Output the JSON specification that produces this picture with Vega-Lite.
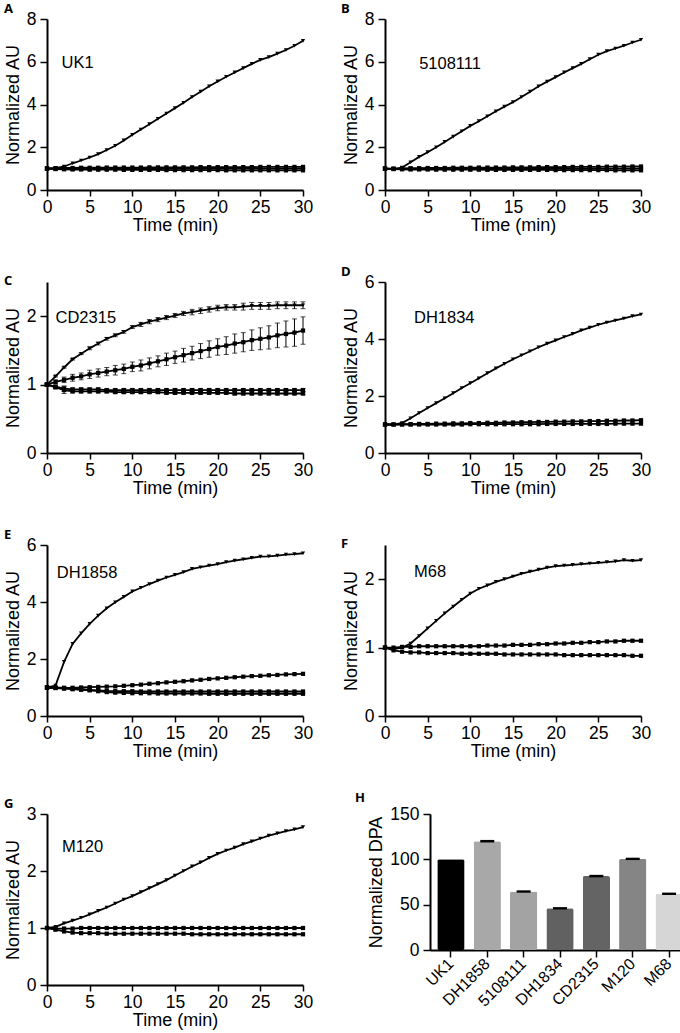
{
"$schema":"https://vega.github.io/schema/vega-lite/v6.json",
"padding":{"left":4,"top":3,"right":0,"bottom":0},
"background":"white",
"config":{
 "view":{"stroke":null},
 "font":"Liberation Sans",
 "axis":{"grid":false,"domainColor":"black","domainWidth":2,"tickColor":"black","tickWidth":1.5,"tickSize":6,"labelColor":"black","labelFont":"Liberation Sans","labelFontSize":17.5,"titleFont":"Liberation Sans","titleFontSize":18,"titleFontWeight":"normal","titleColor":"black","labelFlush":false},
 "axisX":{"labelPadding":2,"titlePadding":1},
 "axisY":{"labelPadding":4,"titlePadding":4},
 "title":{"font":"Open Sans","fontSize":13,"fontWeight":"bold","color":"black","anchor":"start","frame":"group","offset":-6}
},
"datasets":{
"ts":[
{"p":"A","s":1,"t":0,"y":1},{"p":"A","s":1,"t":1,"y":1.02},{"p":"A","s":1,"t":2,"y":1.1},{"p":"A","s":1,"t":3,"y":1.25},{"p":"A","s":1,"t":4,"y":1.38},{"p":"A","s":1,"t":5,"y":1.52},{"p":"A","s":1,"t":6,"y":1.68},{"p":"A","s":1,"t":7,"y":1.87},{"p":"A","s":1,"t":8,"y":2.07},{"p":"A","s":1,"t":9,"y":2.32},{"p":"A","s":1,"t":10,"y":2.58},{"p":"A","s":1,"t":11,"y":2.83},{"p":"A","s":1,"t":12,"y":3.08},{"p":"A","s":1,"t":13,"y":3.33},{"p":"A","s":1,"t":14,"y":3.58},{"p":"A","s":1,"t":15,"y":3.83},{"p":"A","s":1,"t":16,"y":4.08},{"p":"A","s":1,"t":17,"y":4.35},{"p":"A","s":1,"t":18,"y":4.6},{"p":"A","s":1,"t":19,"y":4.85},{"p":"A","s":1,"t":20,"y":5.08},{"p":"A","s":1,"t":21,"y":5.3},{"p":"A","s":1,"t":22,"y":5.5},{"p":"A","s":1,"t":23,"y":5.7},{"p":"A","s":1,"t":24,"y":5.9},{"p":"A","s":1,"t":25,"y":6.09},{"p":"A","s":1,"t":26,"y":6.22},{"p":"A","s":1,"t":27,"y":6.38},{"p":"A","s":1,"t":28,"y":6.55},{"p":"A","s":1,"t":29,"y":6.75},{"p":"A","s":1,"t":30,"y":6.98},
{"p":"A","s":2,"t":0,"y":1},{"p":"A","s":2,"t":1,"y":1.02},{"p":"A","s":2,"t":2,"y":1.03},{"p":"A","s":2,"t":3,"y":1.03},{"p":"A","s":2,"t":4,"y":1.04},{"p":"A","s":2,"t":5,"y":1.04},{"p":"A","s":2,"t":6,"y":1.04},{"p":"A","s":2,"t":7,"y":1.05},{"p":"A","s":2,"t":8,"y":1.05},{"p":"A","s":2,"t":9,"y":1.05},{"p":"A","s":2,"t":10,"y":1.05},{"p":"A","s":2,"t":11,"y":1.05},{"p":"A","s":2,"t":12,"y":1.06},{"p":"A","s":2,"t":13,"y":1.06},{"p":"A","s":2,"t":14,"y":1.06},{"p":"A","s":2,"t":15,"y":1.06},{"p":"A","s":2,"t":16,"y":1.06},{"p":"A","s":2,"t":17,"y":1.06},{"p":"A","s":2,"t":18,"y":1.07},{"p":"A","s":2,"t":19,"y":1.07},{"p":"A","s":2,"t":20,"y":1.07},{"p":"A","s":2,"t":21,"y":1.07},{"p":"A","s":2,"t":22,"y":1.07},{"p":"A","s":2,"t":23,"y":1.07},{"p":"A","s":2,"t":24,"y":1.07},{"p":"A","s":2,"t":25,"y":1.08},{"p":"A","s":2,"t":26,"y":1.08},{"p":"A","s":2,"t":27,"y":1.08},{"p":"A","s":2,"t":28,"y":1.08},{"p":"A","s":2,"t":29,"y":1.08},{"p":"A","s":2,"t":30,"y":1.08},
{"p":"A","s":3,"t":0,"y":1},{"p":"A","s":3,"t":1,"y":0.98},{"p":"A","s":3,"t":2,"y":0.97},{"p":"A","s":3,"t":3,"y":0.96},{"p":"A","s":3,"t":4,"y":0.96},{"p":"A","s":3,"t":5,"y":0.95},{"p":"A","s":3,"t":6,"y":0.95},{"p":"A","s":3,"t":7,"y":0.95},{"p":"A","s":3,"t":8,"y":0.95},{"p":"A","s":3,"t":9,"y":0.94},{"p":"A","s":3,"t":10,"y":0.94},{"p":"A","s":3,"t":11,"y":0.94},{"p":"A","s":3,"t":12,"y":0.94},{"p":"A","s":3,"t":13,"y":0.94},{"p":"A","s":3,"t":14,"y":0.93},{"p":"A","s":3,"t":15,"y":0.93},{"p":"A","s":3,"t":16,"y":0.93},{"p":"A","s":3,"t":17,"y":0.93},{"p":"A","s":3,"t":18,"y":0.93},{"p":"A","s":3,"t":19,"y":0.93},{"p":"A","s":3,"t":20,"y":0.93},{"p":"A","s":3,"t":21,"y":0.92},{"p":"A","s":3,"t":22,"y":0.92},{"p":"A","s":3,"t":23,"y":0.92},{"p":"A","s":3,"t":24,"y":0.92},{"p":"A","s":3,"t":25,"y":0.92},{"p":"A","s":3,"t":26,"y":0.92},{"p":"A","s":3,"t":27,"y":0.92},{"p":"A","s":3,"t":28,"y":0.92},{"p":"A","s":3,"t":29,"y":0.92},{"p":"A","s":3,"t":30,"y":0.92},
{"p":"A","s":4,"t":0,"y":1},{"p":"A","s":4,"t":1,"y":1},{"p":"A","s":4,"t":2,"y":0.99},{"p":"A","s":4,"t":3,"y":0.99},{"p":"A","s":4,"t":4,"y":0.99},{"p":"A","s":4,"t":5,"y":0.99},{"p":"A","s":4,"t":6,"y":1},{"p":"A","s":4,"t":7,"y":1},{"p":"A","s":4,"t":8,"y":1},{"p":"A","s":4,"t":9,"y":1},{"p":"A","s":4,"t":10,"y":1},{"p":"A","s":4,"t":11,"y":1},{"p":"A","s":4,"t":12,"y":1},{"p":"A","s":4,"t":13,"y":1},{"p":"A","s":4,"t":14,"y":1},{"p":"A","s":4,"t":15,"y":1},{"p":"A","s":4,"t":16,"y":1},{"p":"A","s":4,"t":17,"y":1},{"p":"A","s":4,"t":18,"y":1},{"p":"A","s":4,"t":19,"y":1},{"p":"A","s":4,"t":20,"y":1},{"p":"A","s":4,"t":21,"y":1},{"p":"A","s":4,"t":22,"y":1},{"p":"A","s":4,"t":23,"y":1},{"p":"A","s":4,"t":24,"y":1},{"p":"A","s":4,"t":25,"y":1},{"p":"A","s":4,"t":26,"y":1},{"p":"A","s":4,"t":27,"y":1},{"p":"A","s":4,"t":28,"y":1},{"p":"A","s":4,"t":29,"y":1},{"p":"A","s":4,"t":30,"y":1},
{"p":"B","s":1,"t":0,"y":1},{"p":"B","s":1,"t":1,"y":0.98},{"p":"B","s":1,"t":2,"y":1.05},{"p":"B","s":1,"t":3,"y":1.3},{"p":"B","s":1,"t":4,"y":1.55},{"p":"B","s":1,"t":5,"y":1.77},{"p":"B","s":1,"t":6,"y":2},{"p":"B","s":1,"t":7,"y":2.25},{"p":"B","s":1,"t":8,"y":2.5},{"p":"B","s":1,"t":9,"y":2.75},{"p":"B","s":1,"t":10,"y":3},{"p":"B","s":1,"t":11,"y":3.22},{"p":"B","s":1,"t":12,"y":3.45},{"p":"B","s":1,"t":13,"y":3.68},{"p":"B","s":1,"t":14,"y":3.9},{"p":"B","s":1,"t":15,"y":4.11},{"p":"B","s":1,"t":16,"y":4.35},{"p":"B","s":1,"t":17,"y":4.6},{"p":"B","s":1,"t":18,"y":4.85},{"p":"B","s":1,"t":19,"y":5.07},{"p":"B","s":1,"t":20,"y":5.28},{"p":"B","s":1,"t":21,"y":5.5},{"p":"B","s":1,"t":22,"y":5.7},{"p":"B","s":1,"t":23,"y":5.9},{"p":"B","s":1,"t":24,"y":6.12},{"p":"B","s":1,"t":25,"y":6.33},{"p":"B","s":1,"t":26,"y":6.5},{"p":"B","s":1,"t":27,"y":6.62},{"p":"B","s":1,"t":28,"y":6.75},{"p":"B","s":1,"t":29,"y":6.9},{"p":"B","s":1,"t":30,"y":7.03},
{"p":"B","s":2,"t":0,"y":1},{"p":"B","s":2,"t":1,"y":1},{"p":"B","s":2,"t":2,"y":1.01},{"p":"B","s":2,"t":3,"y":1.02},{"p":"B","s":2,"t":4,"y":1.02},{"p":"B","s":2,"t":5,"y":1.03},{"p":"B","s":2,"t":6,"y":1.03},{"p":"B","s":2,"t":7,"y":1.03},{"p":"B","s":2,"t":8,"y":1.04},{"p":"B","s":2,"t":9,"y":1.04},{"p":"B","s":2,"t":10,"y":1.04},{"p":"B","s":2,"t":11,"y":1.05},{"p":"B","s":2,"t":12,"y":1.05},{"p":"B","s":2,"t":13,"y":1.05},{"p":"B","s":2,"t":14,"y":1.05},{"p":"B","s":2,"t":15,"y":1.06},{"p":"B","s":2,"t":16,"y":1.06},{"p":"B","s":2,"t":17,"y":1.06},{"p":"B","s":2,"t":18,"y":1.07},{"p":"B","s":2,"t":19,"y":1.07},{"p":"B","s":2,"t":20,"y":1.07},{"p":"B","s":2,"t":21,"y":1.07},{"p":"B","s":2,"t":22,"y":1.08},{"p":"B","s":2,"t":23,"y":1.08},{"p":"B","s":2,"t":24,"y":1.08},{"p":"B","s":2,"t":25,"y":1.08},{"p":"B","s":2,"t":26,"y":1.09},{"p":"B","s":2,"t":27,"y":1.09},{"p":"B","s":2,"t":28,"y":1.09},{"p":"B","s":2,"t":29,"y":1.1},{"p":"B","s":2,"t":30,"y":1.1},
{"p":"B","s":3,"t":0,"y":1},{"p":"B","s":3,"t":1,"y":0.98},{"p":"B","s":3,"t":2,"y":0.97},{"p":"B","s":3,"t":3,"y":0.96},{"p":"B","s":3,"t":4,"y":0.96},{"p":"B","s":3,"t":5,"y":0.96},{"p":"B","s":3,"t":6,"y":0.95},{"p":"B","s":3,"t":7,"y":0.95},{"p":"B","s":3,"t":8,"y":0.95},{"p":"B","s":3,"t":9,"y":0.95},{"p":"B","s":3,"t":10,"y":0.95},{"p":"B","s":3,"t":11,"y":0.95},{"p":"B","s":3,"t":12,"y":0.94},{"p":"B","s":3,"t":13,"y":0.94},{"p":"B","s":3,"t":14,"y":0.94},{"p":"B","s":3,"t":15,"y":0.94},{"p":"B","s":3,"t":16,"y":0.94},{"p":"B","s":3,"t":17,"y":0.94},{"p":"B","s":3,"t":18,"y":0.94},{"p":"B","s":3,"t":19,"y":0.94},{"p":"B","s":3,"t":20,"y":0.93},{"p":"B","s":3,"t":21,"y":0.93},{"p":"B","s":3,"t":22,"y":0.93},{"p":"B","s":3,"t":23,"y":0.93},{"p":"B","s":3,"t":24,"y":0.93},{"p":"B","s":3,"t":25,"y":0.93},{"p":"B","s":3,"t":26,"y":0.93},{"p":"B","s":3,"t":27,"y":0.92},{"p":"B","s":3,"t":28,"y":0.92},{"p":"B","s":3,"t":29,"y":0.92},{"p":"B","s":3,"t":30,"y":0.92},
{"p":"B","s":4,"t":0,"y":1},{"p":"B","s":4,"t":1,"y":0.99},{"p":"B","s":4,"t":2,"y":0.99},{"p":"B","s":4,"t":3,"y":0.99},{"p":"B","s":4,"t":4,"y":0.99},{"p":"B","s":4,"t":5,"y":0.99},{"p":"B","s":4,"t":6,"y":0.99},{"p":"B","s":4,"t":7,"y":0.99},{"p":"B","s":4,"t":8,"y":0.99},{"p":"B","s":4,"t":9,"y":0.99},{"p":"B","s":4,"t":10,"y":0.99},{"p":"B","s":4,"t":11,"y":1},{"p":"B","s":4,"t":12,"y":1},{"p":"B","s":4,"t":13,"y":1},{"p":"B","s":4,"t":14,"y":1},{"p":"B","s":4,"t":15,"y":1},{"p":"B","s":4,"t":16,"y":1},{"p":"B","s":4,"t":17,"y":1},{"p":"B","s":4,"t":18,"y":1},{"p":"B","s":4,"t":19,"y":1},{"p":"B","s":4,"t":20,"y":1},{"p":"B","s":4,"t":21,"y":1},{"p":"B","s":4,"t":22,"y":1},{"p":"B","s":4,"t":23,"y":1},{"p":"B","s":4,"t":24,"y":1},{"p":"B","s":4,"t":25,"y":1},{"p":"B","s":4,"t":26,"y":1},{"p":"B","s":4,"t":27,"y":1},{"p":"B","s":4,"t":28,"y":1},{"p":"B","s":4,"t":29,"y":1},{"p":"B","s":4,"t":30,"y":1},
{"p":"C","s":1,"t":0,"y":1,"e":0.01},{"p":"C","s":1,"t":1,"y":1.12,"e":0.01},{"p":"C","s":1,"t":2,"y":1.25,"e":0.01},{"p":"C","s":1,"t":3,"y":1.37,"e":0.01},{"p":"C","s":1,"t":4,"y":1.45,"e":0.01},{"p":"C","s":1,"t":5,"y":1.53,"e":0.02},{"p":"C","s":1,"t":6,"y":1.6,"e":0.02},{"p":"C","s":1,"t":7,"y":1.67,"e":0.02},{"p":"C","s":1,"t":8,"y":1.72,"e":0.02},{"p":"C","s":1,"t":9,"y":1.77,"e":0.02},{"p":"C","s":1,"t":10,"y":1.84,"e":0.02},{"p":"C","s":1,"t":11,"y":1.88,"e":0.03},{"p":"C","s":1,"t":12,"y":1.92,"e":0.03},{"p":"C","s":1,"t":13,"y":1.95,"e":0.03},{"p":"C","s":1,"t":14,"y":1.98,"e":0.03},{"p":"C","s":1,"t":15,"y":2.01,"e":0.03},{"p":"C","s":1,"t":16,"y":2.04,"e":0.03},{"p":"C","s":1,"t":17,"y":2.06,"e":0.04},{"p":"C","s":1,"t":18,"y":2.08,"e":0.04},{"p":"C","s":1,"t":19,"y":2.1,"e":0.04},{"p":"C","s":1,"t":20,"y":2.12,"e":0.04},{"p":"C","s":1,"t":21,"y":2.13,"e":0.04},{"p":"C","s":1,"t":22,"y":2.13,"e":0.04},{"p":"C","s":1,"t":23,"y":2.14,"e":0.05},{"p":"C","s":1,"t":24,"y":2.15,"e":0.05},{"p":"C","s":1,"t":25,"y":2.15,"e":0.05},{"p":"C","s":1,"t":26,"y":2.15,"e":0.05},{"p":"C","s":1,"t":27,"y":2.16,"e":0.05},{"p":"C","s":1,"t":28,"y":2.16,"e":0.05},{"p":"C","s":1,"t":29,"y":2.16,"e":0.05},{"p":"C","s":1,"t":30,"y":2.16,"e":0.05},
{"p":"C","s":2,"t":0,"y":1,"e":0.01},{"p":"C","s":2,"t":1,"y":1.04,"e":0.03},{"p":"C","s":2,"t":2,"y":1.07,"e":0.04},{"p":"C","s":2,"t":3,"y":1.1,"e":0.05},{"p":"C","s":2,"t":4,"y":1.12,"e":0.05},{"p":"C","s":2,"t":5,"y":1.15,"e":0.06},{"p":"C","s":2,"t":6,"y":1.17,"e":0.06},{"p":"C","s":2,"t":7,"y":1.19,"e":0.06},{"p":"C","s":2,"t":8,"y":1.21,"e":0.07},{"p":"C","s":2,"t":9,"y":1.23,"e":0.07},{"p":"C","s":2,"t":10,"y":1.26,"e":0.07},{"p":"C","s":2,"t":11,"y":1.28,"e":0.08},{"p":"C","s":2,"t":12,"y":1.31,"e":0.08},{"p":"C","s":2,"t":13,"y":1.34,"e":0.08},{"p":"C","s":2,"t":14,"y":1.37,"e":0.09},{"p":"C","s":2,"t":15,"y":1.4,"e":0.09},{"p":"C","s":2,"t":16,"y":1.43,"e":0.1},{"p":"C","s":2,"t":17,"y":1.46,"e":0.1},{"p":"C","s":2,"t":18,"y":1.49,"e":0.11},{"p":"C","s":2,"t":19,"y":1.52,"e":0.12},{"p":"C","s":2,"t":20,"y":1.55,"e":0.12},{"p":"C","s":2,"t":21,"y":1.57,"e":0.13},{"p":"C","s":2,"t":22,"y":1.6,"e":0.14},{"p":"C","s":2,"t":23,"y":1.62,"e":0.14},{"p":"C","s":2,"t":24,"y":1.65,"e":0.15},{"p":"C","s":2,"t":25,"y":1.67,"e":0.16},{"p":"C","s":2,"t":26,"y":1.69,"e":0.17},{"p":"C","s":2,"t":27,"y":1.72,"e":0.18},{"p":"C","s":2,"t":28,"y":1.74,"e":0.19},{"p":"C","s":2,"t":29,"y":1.76,"e":0.2},{"p":"C","s":2,"t":30,"y":1.79,"e":0.2},
{"p":"C","s":3,"t":0,"y":1,"e":0.02},{"p":"C","s":3,"t":1,"y":0.97,"e":0.02},{"p":"C","s":3,"t":2,"y":0.94,"e":0.04},{"p":"C","s":3,"t":3,"y":0.93,"e":0.02},{"p":"C","s":3,"t":4,"y":0.93,"e":0.02},{"p":"C","s":3,"t":5,"y":0.93,"e":0.02},{"p":"C","s":3,"t":6,"y":0.93,"e":0.02},{"p":"C","s":3,"t":7,"y":0.92,"e":0.02},{"p":"C","s":3,"t":8,"y":0.92,"e":0.02},{"p":"C","s":3,"t":9,"y":0.92,"e":0.02},{"p":"C","s":3,"t":10,"y":0.92,"e":0.02},{"p":"C","s":3,"t":11,"y":0.92,"e":0.02},{"p":"C","s":3,"t":12,"y":0.92,"e":0.02},{"p":"C","s":3,"t":13,"y":0.92,"e":0.02},{"p":"C","s":3,"t":14,"y":0.92,"e":0.02},{"p":"C","s":3,"t":15,"y":0.92,"e":0.02},{"p":"C","s":3,"t":16,"y":0.92,"e":0.02},{"p":"C","s":3,"t":17,"y":0.92,"e":0.02},{"p":"C","s":3,"t":18,"y":0.92,"e":0.02},{"p":"C","s":3,"t":19,"y":0.92,"e":0.02},{"p":"C","s":3,"t":20,"y":0.92,"e":0.02},{"p":"C","s":3,"t":21,"y":0.92,"e":0.02},{"p":"C","s":3,"t":22,"y":0.92,"e":0.02},{"p":"C","s":3,"t":23,"y":0.92,"e":0.02},{"p":"C","s":3,"t":24,"y":0.92,"e":0.02},{"p":"C","s":3,"t":25,"y":0.92,"e":0.02},{"p":"C","s":3,"t":26,"y":0.92,"e":0.02},{"p":"C","s":3,"t":27,"y":0.92,"e":0.02},{"p":"C","s":3,"t":28,"y":0.92,"e":0.02},{"p":"C","s":3,"t":29,"y":0.92,"e":0.02},{"p":"C","s":3,"t":30,"y":0.92,"e":0.02},
{"p":"C","s":4,"t":0,"y":1,"e":0.02},{"p":"C","s":4,"t":1,"y":0.96,"e":0.02},{"p":"C","s":4,"t":2,"y":0.92,"e":0.05},{"p":"C","s":4,"t":3,"y":0.9,"e":0.02},{"p":"C","s":4,"t":4,"y":0.9,"e":0.02},{"p":"C","s":4,"t":5,"y":0.9,"e":0.02},{"p":"C","s":4,"t":6,"y":0.9,"e":0.02},{"p":"C","s":4,"t":7,"y":0.9,"e":0.02},{"p":"C","s":4,"t":8,"y":0.89,"e":0.02},{"p":"C","s":4,"t":9,"y":0.89,"e":0.02},{"p":"C","s":4,"t":10,"y":0.89,"e":0.02},{"p":"C","s":4,"t":11,"y":0.89,"e":0.02},{"p":"C","s":4,"t":12,"y":0.89,"e":0.02},{"p":"C","s":4,"t":13,"y":0.89,"e":0.02},{"p":"C","s":4,"t":14,"y":0.88,"e":0.02},{"p":"C","s":4,"t":15,"y":0.88,"e":0.02},{"p":"C","s":4,"t":16,"y":0.88,"e":0.02},{"p":"C","s":4,"t":17,"y":0.88,"e":0.02},{"p":"C","s":4,"t":18,"y":0.88,"e":0.02},{"p":"C","s":4,"t":19,"y":0.88,"e":0.02},{"p":"C","s":4,"t":20,"y":0.88,"e":0.02},{"p":"C","s":4,"t":21,"y":0.88,"e":0.02},{"p":"C","s":4,"t":22,"y":0.87,"e":0.02},{"p":"C","s":4,"t":23,"y":0.87,"e":0.02},{"p":"C","s":4,"t":24,"y":0.87,"e":0.02},{"p":"C","s":4,"t":25,"y":0.87,"e":0.02},{"p":"C","s":4,"t":26,"y":0.87,"e":0.02},{"p":"C","s":4,"t":27,"y":0.87,"e":0.02},{"p":"C","s":4,"t":28,"y":0.87,"e":0.02},{"p":"C","s":4,"t":29,"y":0.87,"e":0.02},{"p":"C","s":4,"t":30,"y":0.87,"e":0.02},
{"p":"D","s":1,"t":0,"y":1},{"p":"D","s":1,"t":1,"y":1},{"p":"D","s":1,"t":2,"y":1.05},{"p":"D","s":1,"t":3,"y":1.22},{"p":"D","s":1,"t":4,"y":1.4},{"p":"D","s":1,"t":5,"y":1.58},{"p":"D","s":1,"t":6,"y":1.75},{"p":"D","s":1,"t":7,"y":1.92},{"p":"D","s":1,"t":8,"y":2.1},{"p":"D","s":1,"t":9,"y":2.28},{"p":"D","s":1,"t":10,"y":2.45},{"p":"D","s":1,"t":11,"y":2.62},{"p":"D","s":1,"t":12,"y":2.8},{"p":"D","s":1,"t":13,"y":2.97},{"p":"D","s":1,"t":14,"y":3.13},{"p":"D","s":1,"t":15,"y":3.29},{"p":"D","s":1,"t":16,"y":3.43},{"p":"D","s":1,"t":17,"y":3.57},{"p":"D","s":1,"t":18,"y":3.71},{"p":"D","s":1,"t":19,"y":3.84},{"p":"D","s":1,"t":20,"y":3.95},{"p":"D","s":1,"t":21,"y":4.07},{"p":"D","s":1,"t":22,"y":4.18},{"p":"D","s":1,"t":23,"y":4.3},{"p":"D","s":1,"t":24,"y":4.4},{"p":"D","s":1,"t":25,"y":4.5},{"p":"D","s":1,"t":26,"y":4.58},{"p":"D","s":1,"t":27,"y":4.65},{"p":"D","s":1,"t":28,"y":4.72},{"p":"D","s":1,"t":29,"y":4.8},{"p":"D","s":1,"t":30,"y":4.86},
{"p":"D","s":2,"t":0,"y":1},{"p":"D","s":2,"t":1,"y":1},{"p":"D","s":2,"t":2,"y":1.01},{"p":"D","s":2,"t":3,"y":1.01},{"p":"D","s":2,"t":4,"y":1.02},{"p":"D","s":2,"t":5,"y":1.02},{"p":"D","s":2,"t":6,"y":1.03},{"p":"D","s":2,"t":7,"y":1.03},{"p":"D","s":2,"t":8,"y":1.04},{"p":"D","s":2,"t":9,"y":1.04},{"p":"D","s":2,"t":10,"y":1.05},{"p":"D","s":2,"t":11,"y":1.05},{"p":"D","s":2,"t":12,"y":1.06},{"p":"D","s":2,"t":13,"y":1.06},{"p":"D","s":2,"t":14,"y":1.07},{"p":"D","s":2,"t":15,"y":1.07},{"p":"D","s":2,"t":16,"y":1.08},{"p":"D","s":2,"t":17,"y":1.08},{"p":"D","s":2,"t":18,"y":1.09},{"p":"D","s":2,"t":19,"y":1.09},{"p":"D","s":2,"t":20,"y":1.1},{"p":"D","s":2,"t":21,"y":1.1},{"p":"D","s":2,"t":22,"y":1.11},{"p":"D","s":2,"t":23,"y":1.11},{"p":"D","s":2,"t":24,"y":1.12},{"p":"D","s":2,"t":25,"y":1.12},{"p":"D","s":2,"t":26,"y":1.13},{"p":"D","s":2,"t":27,"y":1.13},{"p":"D","s":2,"t":28,"y":1.14},{"p":"D","s":2,"t":29,"y":1.14},{"p":"D","s":2,"t":30,"y":1.15},
{"p":"D","s":3,"t":0,"y":1},{"p":"D","s":3,"t":1,"y":1},{"p":"D","s":3,"t":2,"y":1},{"p":"D","s":3,"t":3,"y":1},{"p":"D","s":3,"t":4,"y":1},{"p":"D","s":3,"t":5,"y":1},{"p":"D","s":3,"t":6,"y":1},{"p":"D","s":3,"t":7,"y":1},{"p":"D","s":3,"t":8,"y":1},{"p":"D","s":3,"t":9,"y":1},{"p":"D","s":3,"t":10,"y":1.01},{"p":"D","s":3,"t":11,"y":1.01},{"p":"D","s":3,"t":12,"y":1.01},{"p":"D","s":3,"t":13,"y":1.01},{"p":"D","s":3,"t":14,"y":1.01},{"p":"D","s":3,"t":15,"y":1.01},{"p":"D","s":3,"t":16,"y":1.01},{"p":"D","s":3,"t":17,"y":1.01},{"p":"D","s":3,"t":18,"y":1.01},{"p":"D","s":3,"t":19,"y":1.02},{"p":"D","s":3,"t":20,"y":1.02},{"p":"D","s":3,"t":21,"y":1.02},{"p":"D","s":3,"t":22,"y":1.02},{"p":"D","s":3,"t":23,"y":1.02},{"p":"D","s":3,"t":24,"y":1.02},{"p":"D","s":3,"t":25,"y":1.02},{"p":"D","s":3,"t":26,"y":1.02},{"p":"D","s":3,"t":27,"y":1.03},{"p":"D","s":3,"t":28,"y":1.03},{"p":"D","s":3,"t":29,"y":1.03},{"p":"D","s":3,"t":30,"y":1.03},
{"p":"E","s":1,"t":0,"y":1},{"p":"E","s":1,"t":1,"y":1.07},{"p":"E","s":1,"t":2,"y":1.9},{"p":"E","s":1,"t":3,"y":2.53},{"p":"E","s":1,"t":4,"y":2.9},{"p":"E","s":1,"t":5,"y":3.23},{"p":"E","s":1,"t":6,"y":3.52},{"p":"E","s":1,"t":7,"y":3.78},{"p":"E","s":1,"t":8,"y":3.99},{"p":"E","s":1,"t":9,"y":4.18},{"p":"E","s":1,"t":10,"y":4.37},{"p":"E","s":1,"t":11,"y":4.5},{"p":"E","s":1,"t":12,"y":4.63},{"p":"E","s":1,"t":13,"y":4.75},{"p":"E","s":1,"t":14,"y":4.86},{"p":"E","s":1,"t":15,"y":4.95},{"p":"E","s":1,"t":16,"y":5.05},{"p":"E","s":1,"t":17,"y":5.16},{"p":"E","s":1,"t":18,"y":5.22},{"p":"E","s":1,"t":19,"y":5.28},{"p":"E","s":1,"t":20,"y":5.33},{"p":"E","s":1,"t":21,"y":5.4},{"p":"E","s":1,"t":22,"y":5.45},{"p":"E","s":1,"t":23,"y":5.5},{"p":"E","s":1,"t":24,"y":5.55},{"p":"E","s":1,"t":25,"y":5.59},{"p":"E","s":1,"t":26,"y":5.6},{"p":"E","s":1,"t":27,"y":5.63},{"p":"E","s":1,"t":28,"y":5.66},{"p":"E","s":1,"t":29,"y":5.68},{"p":"E","s":1,"t":30,"y":5.71},
{"p":"E","s":2,"t":0,"y":1},{"p":"E","s":2,"t":1,"y":1},{"p":"E","s":2,"t":2,"y":0.99},{"p":"E","s":2,"t":3,"y":0.99},{"p":"E","s":2,"t":4,"y":1},{"p":"E","s":2,"t":5,"y":1.01},{"p":"E","s":2,"t":6,"y":1.02},{"p":"E","s":2,"t":7,"y":1.03},{"p":"E","s":2,"t":8,"y":1.04},{"p":"E","s":2,"t":9,"y":1.06},{"p":"E","s":2,"t":10,"y":1.08},{"p":"E","s":2,"t":11,"y":1.1},{"p":"E","s":2,"t":12,"y":1.13},{"p":"E","s":2,"t":13,"y":1.15},{"p":"E","s":2,"t":14,"y":1.18},{"p":"E","s":2,"t":15,"y":1.2},{"p":"E","s":2,"t":16,"y":1.22},{"p":"E","s":2,"t":17,"y":1.25},{"p":"E","s":2,"t":18,"y":1.27},{"p":"E","s":2,"t":19,"y":1.3},{"p":"E","s":2,"t":20,"y":1.32},{"p":"E","s":2,"t":21,"y":1.34},{"p":"E","s":2,"t":22,"y":1.36},{"p":"E","s":2,"t":23,"y":1.38},{"p":"E","s":2,"t":24,"y":1.4},{"p":"E","s":2,"t":25,"y":1.41},{"p":"E","s":2,"t":26,"y":1.43},{"p":"E","s":2,"t":27,"y":1.44},{"p":"E","s":2,"t":28,"y":1.46},{"p":"E","s":2,"t":29,"y":1.47},{"p":"E","s":2,"t":30,"y":1.48},
{"p":"E","s":3,"t":0,"y":1},{"p":"E","s":3,"t":1,"y":0.99},{"p":"E","s":3,"t":2,"y":0.98},{"p":"E","s":3,"t":3,"y":0.96},{"p":"E","s":3,"t":4,"y":0.94},{"p":"E","s":3,"t":5,"y":0.92},{"p":"E","s":3,"t":6,"y":0.9},{"p":"E","s":3,"t":7,"y":0.88},{"p":"E","s":3,"t":8,"y":0.87},{"p":"E","s":3,"t":9,"y":0.87},{"p":"E","s":3,"t":10,"y":0.87},{"p":"E","s":3,"t":11,"y":0.86},{"p":"E","s":3,"t":12,"y":0.86},{"p":"E","s":3,"t":13,"y":0.86},{"p":"E","s":3,"t":14,"y":0.86},{"p":"E","s":3,"t":15,"y":0.86},{"p":"E","s":3,"t":16,"y":0.86},{"p":"E","s":3,"t":17,"y":0.86},{"p":"E","s":3,"t":18,"y":0.86},{"p":"E","s":3,"t":19,"y":0.86},{"p":"E","s":3,"t":20,"y":0.86},{"p":"E","s":3,"t":21,"y":0.86},{"p":"E","s":3,"t":22,"y":0.86},{"p":"E","s":3,"t":23,"y":0.86},{"p":"E","s":3,"t":24,"y":0.86},{"p":"E","s":3,"t":25,"y":0.86},{"p":"E","s":3,"t":26,"y":0.86},{"p":"E","s":3,"t":27,"y":0.86},{"p":"E","s":3,"t":28,"y":0.86},{"p":"E","s":3,"t":29,"y":0.86},{"p":"E","s":3,"t":30,"y":0.86},
{"p":"E","s":4,"t":0,"y":1},{"p":"E","s":4,"t":1,"y":0.98},{"p":"E","s":4,"t":2,"y":0.96},{"p":"E","s":4,"t":3,"y":0.94},{"p":"E","s":4,"t":4,"y":0.92},{"p":"E","s":4,"t":5,"y":0.9},{"p":"E","s":4,"t":6,"y":0.87},{"p":"E","s":4,"t":7,"y":0.84},{"p":"E","s":4,"t":8,"y":0.82},{"p":"E","s":4,"t":9,"y":0.81},{"p":"E","s":4,"t":10,"y":0.8},{"p":"E","s":4,"t":11,"y":0.8},{"p":"E","s":4,"t":12,"y":0.8},{"p":"E","s":4,"t":13,"y":0.79},{"p":"E","s":4,"t":14,"y":0.79},{"p":"E","s":4,"t":15,"y":0.79},{"p":"E","s":4,"t":16,"y":0.79},{"p":"E","s":4,"t":17,"y":0.79},{"p":"E","s":4,"t":18,"y":0.79},{"p":"E","s":4,"t":19,"y":0.78},{"p":"E","s":4,"t":20,"y":0.78},{"p":"E","s":4,"t":21,"y":0.78},{"p":"E","s":4,"t":22,"y":0.78},{"p":"E","s":4,"t":23,"y":0.78},{"p":"E","s":4,"t":24,"y":0.78},{"p":"E","s":4,"t":25,"y":0.78},{"p":"E","s":4,"t":26,"y":0.78},{"p":"E","s":4,"t":27,"y":0.78},{"p":"E","s":4,"t":28,"y":0.78},{"p":"E","s":4,"t":29,"y":0.78},{"p":"E","s":4,"t":30,"y":0.78},
{"p":"F","s":1,"t":0,"y":1},{"p":"F","s":1,"t":1,"y":0.98},{"p":"F","s":1,"t":2,"y":1},{"p":"F","s":1,"t":3,"y":1.06},{"p":"F","s":1,"t":4,"y":1.17},{"p":"F","s":1,"t":5,"y":1.28},{"p":"F","s":1,"t":6,"y":1.39},{"p":"F","s":1,"t":7,"y":1.5},{"p":"F","s":1,"t":8,"y":1.6},{"p":"F","s":1,"t":9,"y":1.7},{"p":"F","s":1,"t":10,"y":1.79},{"p":"F","s":1,"t":11,"y":1.86},{"p":"F","s":1,"t":12,"y":1.91},{"p":"F","s":1,"t":13,"y":1.96},{"p":"F","s":1,"t":14,"y":2},{"p":"F","s":1,"t":15,"y":2.04},{"p":"F","s":1,"t":16,"y":2.08},{"p":"F","s":1,"t":17,"y":2.11},{"p":"F","s":1,"t":18,"y":2.14},{"p":"F","s":1,"t":19,"y":2.17},{"p":"F","s":1,"t":20,"y":2.19},{"p":"F","s":1,"t":21,"y":2.2},{"p":"F","s":1,"t":22,"y":2.21},{"p":"F","s":1,"t":23,"y":2.22},{"p":"F","s":1,"t":24,"y":2.23},{"p":"F","s":1,"t":25,"y":2.24},{"p":"F","s":1,"t":26,"y":2.25},{"p":"F","s":1,"t":27,"y":2.26},{"p":"F","s":1,"t":28,"y":2.28},{"p":"F","s":1,"t":29,"y":2.27},{"p":"F","s":1,"t":30,"y":2.28},
{"p":"F","s":2,"t":0,"y":1},{"p":"F","s":2,"t":1,"y":1},{"p":"F","s":2,"t":2,"y":1.01},{"p":"F","s":2,"t":3,"y":1.01},{"p":"F","s":2,"t":4,"y":1.02},{"p":"F","s":2,"t":5,"y":1.02},{"p":"F","s":2,"t":6,"y":1.02},{"p":"F","s":2,"t":7,"y":1.02},{"p":"F","s":2,"t":8,"y":1.02},{"p":"F","s":2,"t":9,"y":1.02},{"p":"F","s":2,"t":10,"y":1.02},{"p":"F","s":2,"t":11,"y":1.02},{"p":"F","s":2,"t":12,"y":1.03},{"p":"F","s":2,"t":13,"y":1.03},{"p":"F","s":2,"t":14,"y":1.03},{"p":"F","s":2,"t":15,"y":1.04},{"p":"F","s":2,"t":16,"y":1.04},{"p":"F","s":2,"t":17,"y":1.04},{"p":"F","s":2,"t":18,"y":1.05},{"p":"F","s":2,"t":19,"y":1.05},{"p":"F","s":2,"t":20,"y":1.06},{"p":"F","s":2,"t":21,"y":1.06},{"p":"F","s":2,"t":22,"y":1.07},{"p":"F","s":2,"t":23,"y":1.07},{"p":"F","s":2,"t":24,"y":1.08},{"p":"F","s":2,"t":25,"y":1.08},{"p":"F","s":2,"t":26,"y":1.09},{"p":"F","s":2,"t":27,"y":1.09},{"p":"F","s":2,"t":28,"y":1.1},{"p":"F","s":2,"t":29,"y":1.1},{"p":"F","s":2,"t":30,"y":1.1},
{"p":"F","s":3,"t":0,"y":1},{"p":"F","s":3,"t":1,"y":0.96},{"p":"F","s":3,"t":2,"y":0.94},{"p":"F","s":3,"t":3,"y":0.93},{"p":"F","s":3,"t":4,"y":0.93},{"p":"F","s":3,"t":5,"y":0.92},{"p":"F","s":3,"t":6,"y":0.92},{"p":"F","s":3,"t":7,"y":0.92},{"p":"F","s":3,"t":8,"y":0.92},{"p":"F","s":3,"t":9,"y":0.91},{"p":"F","s":3,"t":10,"y":0.91},{"p":"F","s":3,"t":11,"y":0.91},{"p":"F","s":3,"t":12,"y":0.91},{"p":"F","s":3,"t":13,"y":0.91},{"p":"F","s":3,"t":14,"y":0.9},{"p":"F","s":3,"t":15,"y":0.9},{"p":"F","s":3,"t":16,"y":0.9},{"p":"F","s":3,"t":17,"y":0.9},{"p":"F","s":3,"t":18,"y":0.9},{"p":"F","s":3,"t":19,"y":0.9},{"p":"F","s":3,"t":20,"y":0.9},{"p":"F","s":3,"t":21,"y":0.89},{"p":"F","s":3,"t":22,"y":0.89},{"p":"F","s":3,"t":23,"y":0.89},{"p":"F","s":3,"t":24,"y":0.89},{"p":"F","s":3,"t":25,"y":0.89},{"p":"F","s":3,"t":26,"y":0.89},{"p":"F","s":3,"t":27,"y":0.89},{"p":"F","s":3,"t":28,"y":0.89},{"p":"F","s":3,"t":29,"y":0.88},{"p":"F","s":3,"t":30,"y":0.88},
{"p":"G","s":1,"t":0,"y":1},{"p":"G","s":1,"t":1,"y":1.02},{"p":"G","s":1,"t":2,"y":1.08},{"p":"G","s":1,"t":3,"y":1.13},{"p":"G","s":1,"t":4,"y":1.18},{"p":"G","s":1,"t":5,"y":1.24},{"p":"G","s":1,"t":6,"y":1.3},{"p":"G","s":1,"t":7,"y":1.36},{"p":"G","s":1,"t":8,"y":1.43},{"p":"G","s":1,"t":9,"y":1.5},{"p":"G","s":1,"t":10,"y":1.56},{"p":"G","s":1,"t":11,"y":1.63},{"p":"G","s":1,"t":12,"y":1.7},{"p":"G","s":1,"t":13,"y":1.77},{"p":"G","s":1,"t":14,"y":1.84},{"p":"G","s":1,"t":15,"y":1.92},{"p":"G","s":1,"t":16,"y":2},{"p":"G","s":1,"t":17,"y":2.08},{"p":"G","s":1,"t":18,"y":2.15},{"p":"G","s":1,"t":19,"y":2.23},{"p":"G","s":1,"t":20,"y":2.3},{"p":"G","s":1,"t":21,"y":2.36},{"p":"G","s":1,"t":22,"y":2.41},{"p":"G","s":1,"t":23,"y":2.47},{"p":"G","s":1,"t":24,"y":2.52},{"p":"G","s":1,"t":25,"y":2.57},{"p":"G","s":1,"t":26,"y":2.62},{"p":"G","s":1,"t":27,"y":2.66},{"p":"G","s":1,"t":28,"y":2.7},{"p":"G","s":1,"t":29,"y":2.73},{"p":"G","s":1,"t":30,"y":2.77},
{"p":"G","s":2,"t":0,"y":1},{"p":"G","s":2,"t":1,"y":0.99},{"p":"G","s":2,"t":2,"y":0.99},{"p":"G","s":2,"t":3,"y":0.99},{"p":"G","s":2,"t":4,"y":1},{"p":"G","s":2,"t":5,"y":1},{"p":"G","s":2,"t":6,"y":1},{"p":"G","s":2,"t":7,"y":1},{"p":"G","s":2,"t":8,"y":1},{"p":"G","s":2,"t":9,"y":1},{"p":"G","s":2,"t":10,"y":1},{"p":"G","s":2,"t":11,"y":1},{"p":"G","s":2,"t":12,"y":1},{"p":"G","s":2,"t":13,"y":1},{"p":"G","s":2,"t":14,"y":1},{"p":"G","s":2,"t":15,"y":1},{"p":"G","s":2,"t":16,"y":1},{"p":"G","s":2,"t":17,"y":1},{"p":"G","s":2,"t":18,"y":1},{"p":"G","s":2,"t":19,"y":1},{"p":"G","s":2,"t":20,"y":1},{"p":"G","s":2,"t":21,"y":1},{"p":"G","s":2,"t":22,"y":1},{"p":"G","s":2,"t":23,"y":1},{"p":"G","s":2,"t":24,"y":1},{"p":"G","s":2,"t":25,"y":1},{"p":"G","s":2,"t":26,"y":1},{"p":"G","s":2,"t":27,"y":1},{"p":"G","s":2,"t":28,"y":1},{"p":"G","s":2,"t":29,"y":1},{"p":"G","s":2,"t":30,"y":1},
{"p":"G","s":3,"t":0,"y":1},{"p":"G","s":3,"t":1,"y":0.97},{"p":"G","s":3,"t":2,"y":0.94},{"p":"G","s":3,"t":3,"y":0.92},{"p":"G","s":3,"t":4,"y":0.91},{"p":"G","s":3,"t":5,"y":0.91},{"p":"G","s":3,"t":6,"y":0.91},{"p":"G","s":3,"t":7,"y":0.9},{"p":"G","s":3,"t":8,"y":0.9},{"p":"G","s":3,"t":9,"y":0.9},{"p":"G","s":3,"t":10,"y":0.9},{"p":"G","s":3,"t":11,"y":0.9},{"p":"G","s":3,"t":12,"y":0.9},{"p":"G","s":3,"t":13,"y":0.9},{"p":"G","s":3,"t":14,"y":0.9},{"p":"G","s":3,"t":15,"y":0.9},{"p":"G","s":3,"t":16,"y":0.9},{"p":"G","s":3,"t":17,"y":0.89},{"p":"G","s":3,"t":18,"y":0.89},{"p":"G","s":3,"t":19,"y":0.89},{"p":"G","s":3,"t":20,"y":0.89},{"p":"G","s":3,"t":21,"y":0.89},{"p":"G","s":3,"t":22,"y":0.89},{"p":"G","s":3,"t":23,"y":0.89},{"p":"G","s":3,"t":24,"y":0.89},{"p":"G","s":3,"t":25,"y":0.89},{"p":"G","s":3,"t":26,"y":0.89},{"p":"G","s":3,"t":27,"y":0.89},{"p":"G","s":3,"t":28,"y":0.89},{"p":"G","s":3,"t":29,"y":0.89},{"p":"G","s":3,"t":30,"y":0.89}
],
"dpa":[
{"strain":"UK1","v":100,"e":0},{"strain":"DH1858","v":120,"e":1.4},{"strain":"5108111","v":64.5,"e":1.3},{"strain":"DH1834","v":46,"e":1.3},{"strain":"CD2315","v":81.5,"e":1.4},{"strain":"M120","v":100.5,"e":1.3},{"strain":"M68","v":62,"e":1.3}
]
},
"spacing":31,
"vconcat":[
{"spacing":28,"hconcat":[
 {"width":256,"height":171,"title":{"text":"A","dx":-43},
  "layer":[
   {"data":{"name":"ts"},"transform":[{"filter":"datum.p==='A'"}],"mark":{"type":"line","color":"black","strokeWidth":1.8},
    "encoding":{"x":{"field":"t","type":"quantitative","scale":{"domain":[0,30],"nice":false},"axis":{"title":"Time (min)","values":[0,2.5,5,7.5,10,12.5,15,17.5,20,22.5,25,27.5,30],"labelExpr":"datum.value % 5 === 0 ? format(datum.value, 'd') : ''"}},
     "y":{"field":"y","type":"quantitative","scale":{"domain":[0,8],"nice":false},"axis":{"title":"Normalized AU","values":[0,1,2,3,4,5,6,7,8],"labelExpr":"datum.value % 2 === 0 ? format(datum.value, 'd') : ''","tickSize":{"condition":{"test":"datum.value % 2 === 0","value":7},"value":4}}},
     "detail":{"field":"s"}}},
   {"data":{"name":"ts"},"transform":[{"filter":"datum.p==='A'"}],"mark":{"type":"point","filled":true,"color":"black","size":18,"opacity":1},
    "encoding":{"x":{"field":"t","type":"quantitative","scale":{"domain":[0,30],"nice":false}},"y":{"field":"y","type":"quantitative","scale":{"domain":[0,8],"nice":false}},
     "shape":{"field":"s","type":"nominal","scale":{"domain":[1,2,3,4],"range":["triangle-down","square","square","square"]},"legend":null}}},
   {"data":{"values":[{"label":"UK1"}]},"mark":{"type":"text","align":"left","baseline":"middle","fontSize":16.5,"font":"Liberation Sans","color":"black"},"encoding":{"x":{"datum":1.7,"type":"quantitative"},"y":{"datum":5.95,"type":"quantitative"},"text":{"field":"label","type":"nominal"}}}
  ]},
 {"width":256,"height":171,"title":{"text":"B","dx":-44},
  "layer":[
   {"data":{"name":"ts"},"transform":[{"filter":"datum.p==='B'"}],"mark":{"type":"line","color":"black","strokeWidth":1.8},
    "encoding":{"x":{"field":"t","type":"quantitative","scale":{"domain":[0,30],"nice":false},"axis":{"title":"Time (min)","values":[0,2.5,5,7.5,10,12.5,15,17.5,20,22.5,25,27.5,30],"labelExpr":"datum.value % 5 === 0 ? format(datum.value, 'd') : ''"}},
     "y":{"field":"y","type":"quantitative","scale":{"domain":[0,8],"nice":false},"axis":{"title":"Normalized AU","values":[0,1,2,3,4,5,6,7,8],"labelExpr":"datum.value % 2 === 0 ? format(datum.value, 'd') : ''","tickSize":{"condition":{"test":"datum.value % 2 === 0","value":7},"value":4}}},
     "detail":{"field":"s"}}},
   {"data":{"name":"ts"},"transform":[{"filter":"datum.p==='B'"}],"mark":{"type":"point","filled":true,"color":"black","size":18,"opacity":1},
    "encoding":{"x":{"field":"t","type":"quantitative","scale":{"domain":[0,30],"nice":false}},"y":{"field":"y","type":"quantitative","scale":{"domain":[0,8],"nice":false}},
     "shape":{"field":"s","type":"nominal","scale":{"domain":[1,2,3,4],"range":["triangle-down","square","square","square"]},"legend":null}}},
   {"data":{"values":[{"label":"5108111"}]},"mark":{"type":"text","align":"left","baseline":"middle","fontSize":16.5,"font":"Liberation Sans","color":"black"},"encoding":{"x":{"datum":4.0,"type":"quantitative"},"y":{"datum":5.9,"type":"quantitative"},"text":{"field":"label","type":"nominal"}}}
  ]}
]},
{"spacing":28,"hconcat":[
 {"width":256,"height":171,"title":{"text":"C","dx":-43},
  "layer":[
   {"data":{"name":"ts"},"transform":[{"filter":"datum.p==='C'"}],"mark":{"type":"errorbar","color":"black","ticks":true,"size":5,"thickness":1},
    "encoding":{"x":{"field":"t","type":"quantitative","scale":{"domain":[0,30],"nice":false},"title":"Time (min)"},"y":{"field":"y","type":"quantitative","scale":{"domain":[0,2.5],"nice":false},"title":"Normalized AU"},"yError":{"field":"e"}}},
   {"data":{"name":"ts"},"transform":[{"filter":"datum.p==='C'"}],"mark":{"type":"line","color":"black","strokeWidth":1.8},
    "encoding":{"x":{"field":"t","type":"quantitative","scale":{"domain":[0,30],"nice":false},"axis":{"title":"Time (min)","values":[0,2.5,5,7.5,10,12.5,15,17.5,20,22.5,25,27.5,30],"labelExpr":"datum.value % 5 === 0 ? format(datum.value, 'd') : ''"}},
     "y":{"field":"y","type":"quantitative","scale":{"domain":[0,2.5],"nice":false},"axis":{"title":"Normalized AU","values":[0,0.5,1,1.5,2,2.5],"labelExpr":"datum.value % 1 === 0 ? format(datum.value, 'd') : ''","tickSize":{"condition":{"test":"datum.value % 1 === 0","value":7},"value":4}}},
     "detail":{"field":"s"}}},
   {"data":{"name":"ts"},"transform":[{"filter":"datum.p==='C'"}],"mark":{"type":"point","filled":true,"color":"black","size":18,"opacity":1},
    "encoding":{"x":{"field":"t","type":"quantitative","scale":{"domain":[0,30],"nice":false}},"y":{"field":"y","type":"quantitative","scale":{"domain":[0,2.5],"nice":false}},
     "shape":{"field":"s","type":"nominal","scale":{"domain":[1,2,3,4],"range":["triangle-down","square","circle","square"]},"legend":null}}},
   {"data":{"values":[{"label":"CD2315"}]},"mark":{"type":"text","align":"left","baseline":"middle","fontSize":16.5,"font":"Liberation Sans","color":"black"},"encoding":{"x":{"datum":1.0,"type":"quantitative"},"y":{"datum":1.98,"type":"quantitative"},"text":{"field":"label","type":"nominal"}}}
  ]},
 {"width":256,"height":171,"title":{"text":"D","dx":-44},
  "layer":[
   {"data":{"name":"ts"},"transform":[{"filter":"datum.p==='D'"}],"mark":{"type":"line","color":"black","strokeWidth":1.8},
    "encoding":{"x":{"field":"t","type":"quantitative","scale":{"domain":[0,30],"nice":false},"axis":{"title":"Time (min)","values":[0,2.5,5,7.5,10,12.5,15,17.5,20,22.5,25,27.5,30],"labelExpr":"datum.value % 5 === 0 ? format(datum.value, 'd') : ''"}},
     "y":{"field":"y","type":"quantitative","scale":{"domain":[0,6],"nice":false},"axis":{"title":"Normalized AU","values":[0,1,2,3,4,5,6],"labelExpr":"datum.value % 2 === 0 ? format(datum.value, 'd') : ''","tickSize":{"condition":{"test":"datum.value % 2 === 0","value":7},"value":4}}},
     "detail":{"field":"s"}}},
   {"data":{"name":"ts"},"transform":[{"filter":"datum.p==='D'"}],"mark":{"type":"point","filled":true,"color":"black","size":18,"opacity":1},
    "encoding":{"x":{"field":"t","type":"quantitative","scale":{"domain":[0,30],"nice":false}},"y":{"field":"y","type":"quantitative","scale":{"domain":[0,6],"nice":false}},
     "shape":{"field":"s","type":"nominal","scale":{"domain":[1,2,3,4],"range":["triangle-down","square","square","square"]},"legend":null}}},
   {"data":{"values":[{"label":"DH1834"}]},"mark":{"type":"text","align":"left","baseline":"middle","fontSize":16.5,"font":"Liberation Sans","color":"black"},"encoding":{"x":{"datum":3.4,"type":"quantitative"},"y":{"datum":4.73,"type":"quantitative"},"text":{"field":"label","type":"nominal"}}}
  ]}
]},
{"spacing":28,"hconcat":[
 {"width":256,"height":171,"title":{"text":"E","dx":-43},
  "layer":[
   {"data":{"name":"ts"},"transform":[{"filter":"datum.p==='E'"}],"mark":{"type":"line","color":"black","strokeWidth":1.8},
    "encoding":{"x":{"field":"t","type":"quantitative","scale":{"domain":[0,30],"nice":false},"axis":{"title":"Time (min)","values":[0,2.5,5,7.5,10,12.5,15,17.5,20,22.5,25,27.5,30],"labelExpr":"datum.value % 5 === 0 ? format(datum.value, 'd') : ''"}},
     "y":{"field":"y","type":"quantitative","scale":{"domain":[0,6],"nice":false},"axis":{"title":"Normalized AU","values":[0,1,2,3,4,5,6],"labelExpr":"datum.value % 2 === 0 ? format(datum.value, 'd') : ''","tickSize":{"condition":{"test":"datum.value % 2 === 0","value":7},"value":4}}},
     "detail":{"field":"s"}}},
   {"data":{"name":"ts"},"transform":[{"filter":"datum.p==='E'"}],"mark":{"type":"point","filled":true,"color":"black","size":18,"opacity":1},
    "encoding":{"x":{"field":"t","type":"quantitative","scale":{"domain":[0,30],"nice":false}},"y":{"field":"y","type":"quantitative","scale":{"domain":[0,6],"nice":false}},
     "shape":{"field":"s","type":"nominal","scale":{"domain":[1,2,3,4],"range":["triangle-down","square","square","square"]},"legend":null}}},
   {"data":{"values":[{"label":"DH1858"}]},"mark":{"type":"text","align":"left","baseline":"middle","fontSize":16.5,"font":"Liberation Sans","color":"black"},"encoding":{"x":{"datum":1.15,"type":"quantitative"},"y":{"datum":5.03,"type":"quantitative"},"text":{"field":"label","type":"nominal"}}}
  ]},
 {"width":256,"height":171,"title":{"text":"F","dx":-44},
  "layer":[
   {"data":{"name":"ts"},"transform":[{"filter":"datum.p==='F'"}],"mark":{"type":"line","color":"black","strokeWidth":1.8},
    "encoding":{"x":{"field":"t","type":"quantitative","scale":{"domain":[0,30],"nice":false},"axis":{"title":"Time (min)","values":[0,2.5,5,7.5,10,12.5,15,17.5,20,22.5,25,27.5,30],"labelExpr":"datum.value % 5 === 0 ? format(datum.value, 'd') : ''"}},
     "y":{"field":"y","type":"quantitative","scale":{"domain":[0,2.5],"nice":false},"axis":{"title":"Normalized AU","values":[0,0.5,1,1.5,2,2.5],"labelExpr":"datum.value % 1 === 0 ? format(datum.value, 'd') : ''","tickSize":{"condition":{"test":"datum.value % 1 === 0","value":7},"value":4}}},
     "detail":{"field":"s"}}},
   {"data":{"name":"ts"},"transform":[{"filter":"datum.p==='F'"}],"mark":{"type":"point","filled":true,"color":"black","size":18,"opacity":1},
    "encoding":{"x":{"field":"t","type":"quantitative","scale":{"domain":[0,30],"nice":false}},"y":{"field":"y","type":"quantitative","scale":{"domain":[0,2.5],"nice":false}},
     "shape":{"field":"s","type":"nominal","scale":{"domain":[1,2,3,4],"range":["triangle-down","square","circle","square"]},"legend":null}}},
   {"data":{"values":[{"label":"M68"}]},"mark":{"type":"text","align":"left","baseline":"middle","fontSize":16.5,"font":"Liberation Sans","color":"black"},"encoding":{"x":{"datum":3.4,"type":"quantitative"},"y":{"datum":2.1,"type":"quantitative"},"text":{"field":"label","type":"nominal"}}}
  ]}
]},
{"spacing":42,"hconcat":[
 {"width":256,"height":171,"title":{"text":"G","dx":-43},
  "layer":[
   {"data":{"name":"ts"},"transform":[{"filter":"datum.p==='G'"}],"mark":{"type":"line","color":"black","strokeWidth":1.8},
    "encoding":{"x":{"field":"t","type":"quantitative","scale":{"domain":[0,30],"nice":false},"axis":{"title":"Time (min)","values":[0,2.5,5,7.5,10,12.5,15,17.5,20,22.5,25,27.5,30],"labelExpr":"datum.value % 5 === 0 ? format(datum.value, 'd') : ''"}},
     "y":{"field":"y","type":"quantitative","scale":{"domain":[0,3],"nice":false},"axis":{"title":"Normalized AU","values":[0,0.5,1,1.5,2,2.5,3],"labelExpr":"datum.value % 1 === 0 ? format(datum.value, 'd') : ''","tickSize":{"condition":{"test":"datum.value % 1 === 0","value":7},"value":4}}},
     "detail":{"field":"s"}}},
   {"data":{"name":"ts"},"transform":[{"filter":"datum.p==='G'"}],"mark":{"type":"point","filled":true,"color":"black","size":18,"opacity":1},
    "encoding":{"x":{"field":"t","type":"quantitative","scale":{"domain":[0,30],"nice":false}},"y":{"field":"y","type":"quantitative","scale":{"domain":[0,3],"nice":false}},
     "shape":{"field":"s","type":"nominal","scale":{"domain":[1,2,3,4],"range":["triangle-down","square","square","square"]},"legend":null}}},
   {"data":{"values":[{"label":"M120"}]},"mark":{"type":"text","align":"left","baseline":"middle","fontSize":16.5,"font":"Liberation Sans","color":"black"},"encoding":{"x":{"datum":1.75,"type":"quantitative"},"y":{"datum":2.42,"type":"quantitative"},"text":{"field":"label","type":"nominal"}}}
  ]},
 {"width":260,"height":136,"title":{"text":"H","dx":-75,"offset":0},"data":{"name":"dpa"},
  "encoding":{"x":{"field":"strain","type":"nominal","sort":null,"scale":{"paddingInner":0.25,"paddingOuter":0.2},"axis":{"title":null,"labelAngle":-45,"labelAlign":"right","labelBaseline":"middle","labelFontSize":16,"tickSize":7,"labelPadding":4}},
   "y":{"field":"v","type":"quantitative","scale":{"domain":[0,150],"nice":false},"axis":{"title":"Normalized DPA","values":[0,50,100,150],"tickSize":7}}},
  "layer":[
   {"mark":{"type":"bar","cornerRadius":2},"encoding":{"color":{"field":"strain","type":"nominal","scale":{"domain":["UK1","DH1858","5108111","DH1834","CD2315","M120","M68"],"range":["#000000","#a8a8a8","#a3a3a3","#616161","#646464","#858585","#d6d6d6"]},"legend":null}}},
   {"mark":{"type":"errorbar","color":"black","thickness":14,"ticks":false},"encoding":{"yError":{"field":"e"}}}
  ]}
]}
]
}
